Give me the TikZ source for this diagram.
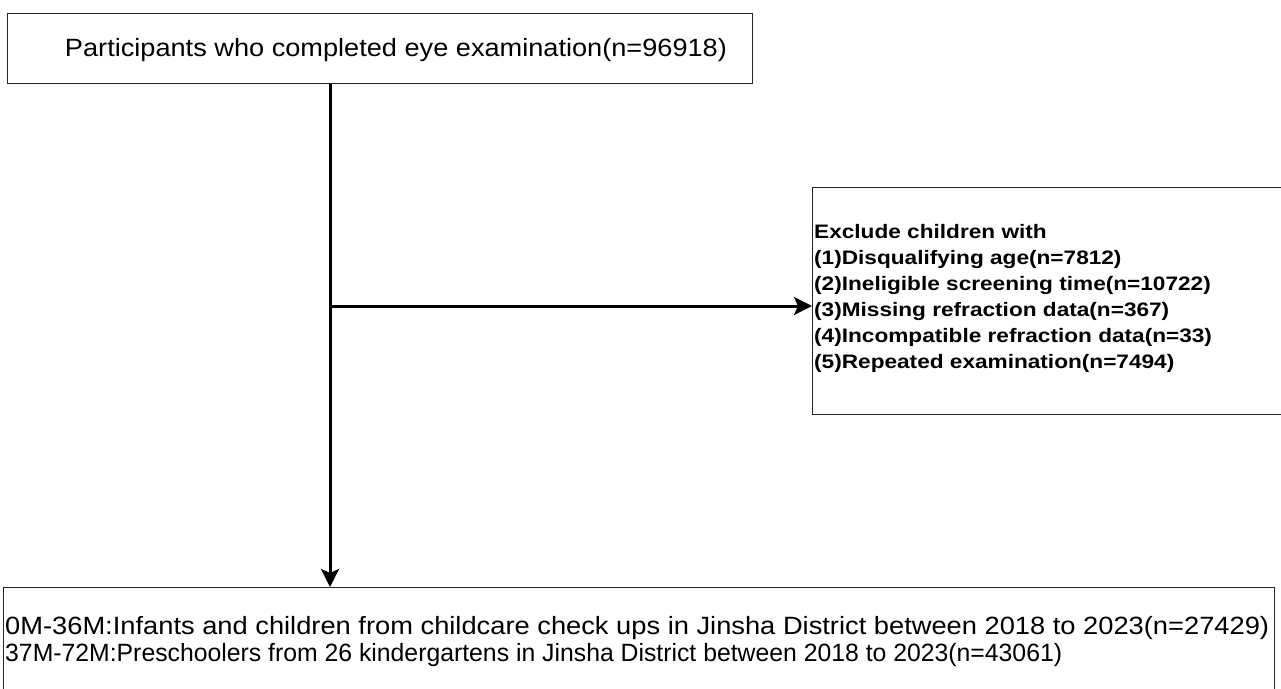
\documentclass[tikz,border=0pt]{standalone}
\usepackage{fontspec}
\setmainfont{Liberation Sans}
\usepackage{graphicx}
\usetikzlibrary{arrows.meta}
\tikzset{
  box/.style={draw=black!85, line width=1.3pt, inner sep=0pt, anchor=north west},
  txt/.style={inner sep=0pt, text=black},
  flow/.style={line width=3pt, black, -{Stealth[length=18pt,width=18pt,inset=4pt]}},
}
\begin{document}
\begin{tikzpicture}[x=1pt,y=-1pt]
\useasboundingbox (0,0) rectangle (1281,688);
\clip (0,0) rectangle (1281,688);
\fill[white] (0,0) rectangle (1281,688);
% boxes
\node[box, minimum width=745pt, minimum height=70pt] (top) at (7,13) {};
\node[box, minimum width=520pt, minimum height=227pt] (excl) at (812,187) {};
\node[box, minimum width=1271pt, minimum height=110pt] (bot) at (3,587) {};
% texts
\node[txt, anchor=base] (toptext) at (396,56.7)
  {\fontsize{25}{30}\selectfont\resizebox{662pt}{\height}{Participants who completed eye examination(n=96918)}};
\node[txt, anchor=north west] (excltext) at (814,220.1)
  {\fontsize{19.5}{26}\selectfont\bfseries\scalebox{1.16}[1]{\begin{tabular}{@{}l@{}}
   Exclude children with\\
   (1)Disqualifying age(n=7812)\\
   (2)Ineligible screening time(n=10722)\\
   (3)Missing refraction data(n=367)\\
   (4)Incompatible refraction data(n=33)\\
   (5)Repeated examination(n=7494)
   \end{tabular}}};
\node[txt, anchor=base west] (botone) at (5,634)
  {\fontsize{25}{28}\selectfont\resizebox{1264pt}{\height}{0M-36M:Infants and children from childcare check ups in Jinsha District between 2018 to 2023(n=27429)}};
\node[txt, anchor=base west] (bottwo) at (5,661.5)
  {\fontsize{25}{28}\selectfont\resizebox{1057pt}{\height}{37M-72M:Preschoolers from 26 kindergartens in Jinsha District between 2018 to 2023(n=43061)}};
% connectors
\coordinate (split) at (330,306);
\draw[flow] (top.south -| split) -- (bot.north -| split);
\draw[flow] (split) -- (split -| excl.west);
\end{tikzpicture}
\end{document}
